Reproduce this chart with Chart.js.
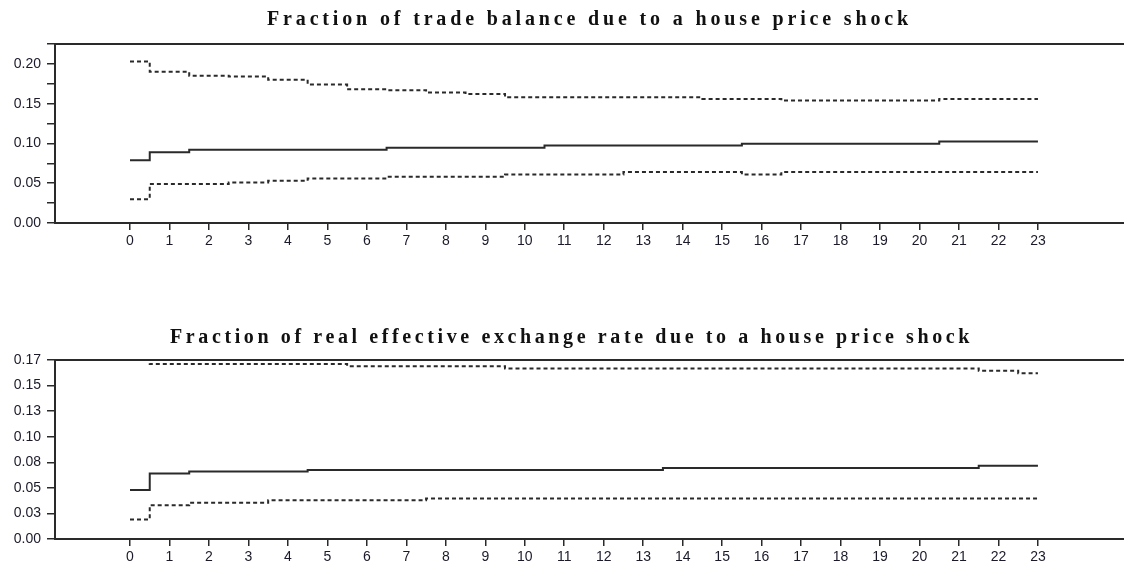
<!DOCTYPE html>
<html>
<head>
<meta charset="utf-8">
<script src="https://cdn.jsdelivr.net/npm/chart.js@4"></script>
<style>
  body { margin: 0; background: #fff; width: 1124px; height: 572px; overflow: hidden; position: relative; }
  .panel { position: absolute; left: 0; width: 1124px; }
  .title { position: absolute; font-family: "Liberation Serif", "Times New Roman", serif; font-weight: bold;
           font-size: 20px; line-height: 20px; white-space: nowrap; color: #111; }
</style>
</head>
<body>
<div class="panel" style="top:0;height:270px"><canvas id="tbChart"></canvas></div>
<div class="panel" style="top:300px;height:272px"><canvas id="reerChart"></canvas></div>
<div class="title" id="tbTitle" style="left:267px;top:8px"></div>
<div class="title" id="reerTitle" style="left:170px;top:326px"></div>
<script>
// horizons (quarters after the shock)
const horizons = [0, 1, 2, 3, 4, 5, 6, 7, 8, 9, 10, 11, 12, 13, 14, 15, 16, 17, 18, 19, 20, 21, 22, 23];

// trade balance: share explained by house price shock, with bands
const tbTitle = 'Fraction of trade balance due to a house price shock';
const tbMid   = [0.079, 0.089, 0.092, 0.092, 0.092, 0.092, 0.092, 0.0947, 0.0947, 0.0947, 0.0947, 0.0974,
                 0.0974, 0.0974, 0.0974, 0.0974, 0.0996, 0.0996, 0.0996, 0.0996, 0.0996, 0.1025, 0.1025, 0.1025];
const tbUpper = [0.203, 0.190, 0.185, 0.184, 0.180, 0.174, 0.168, 0.167, 0.164, 0.162, 0.158, 0.158,
                 0.158, 0.158, 0.158, 0.156, 0.156, 0.154, 0.154, 0.154, 0.154, 0.156, 0.156, 0.156];
const tbLower = [0.030, 0.049, 0.049, 0.051, 0.053, 0.056, 0.056, 0.058, 0.058, 0.058, 0.061, 0.061,
                 0.061, 0.064, 0.064, 0.064, 0.061, 0.064, 0.064, 0.064, 0.064, 0.064, 0.064, 0.064];
const tbYLabels = ['0.00', '', '0.05', '', '0.10', '', '0.15', '', '0.20', ''];

// real effective exchange rate
const reerTitle = 'Fraction of real effective exchange rate due to a house price shock';
const reerMid   = [0.048, 0.064, 0.066, 0.066, 0.066, 0.0675, 0.0675, 0.0675, 0.0675, 0.0675, 0.0675, 0.0675,
                   0.0675, 0.0675, 0.0694, 0.0694, 0.0694, 0.0694, 0.0694, 0.0694, 0.0694, 0.0694, 0.0715, 0.0715];
const reerUpper = [0.180, 0.171, 0.171, 0.171, 0.171, 0.171, 0.169, 0.169, 0.169, 0.169, 0.1668, 0.1668,
                   0.1668, 0.1668, 0.1668, 0.1668, 0.1668, 0.1668, 0.1668, 0.1668, 0.1668, 0.1668, 0.1645, 0.162];
const reerLower = [0.019, 0.033, 0.0355, 0.0355, 0.038, 0.038, 0.038, 0.038, 0.0395, 0.0395, 0.0395, 0.0395,
                   0.0395, 0.0395, 0.0395, 0.0395, 0.0395, 0.0395, 0.0395, 0.0395, 0.0395, 0.0395, 0.0395, 0.0395];
const reerYLabels = ['0.00', '0.03', '0.05', '0.08', '0.10', '0.13', '0.15', '0.17'];

const yStep = 0.025;
const xMin = -1.9, xMax = 25.18;
const ink = '#2a2a2a';
const tickFont = { family: '"Liberation Sans", Arial, sans-serif', size: 14 };

function placeTitle(id, text, width) {
    const el = document.getElementById(id);
    el.textContent = text;
    const natural = el.getBoundingClientRect().width;
    el.style.letterSpacing = ((width - natural) / text.length) + 'px';
}

function series(values, dashed) {
    return {
        data: horizons.map((h, i) => ({ x: h, y: values[i] })),
        borderColor: ink,
        borderWidth: 2,
        borderDash: dashed ? [4, 3] : [],
        stepped: 'middle',
        pointRadius: 0,
        fill: false
    };
}

function makeChart(canvasId, mid, upper, lower, yLabels, padTop, padBottom) {
    const ctx = document.getElementById(canvasId).getContext('2d');
    return new Chart(ctx, {
        type: 'line',
        data: { datasets: [series(upper, true), series(mid, false), series(lower, true)] },
        options: {
            responsive: true,
            maintainAspectRatio: false,
            animation: false,
            devicePixelRatio: 1,
            layout: { padding: { top: padTop, bottom: padBottom, left: 0, right: 0 } },
            plugins: { legend: { display: false }, tooltip: { enabled: false }, title: { display: false } },
            scales: {
                x: {
                    type: 'linear',
                    min: xMin,
                    max: xMax,
                    afterBuildTicks: s => { s.ticks = horizons.map(v => ({ value: v })); },
                    afterFit: s => { s.height = 30; },
                    grid: { display: true, drawOnChartArea: false, drawTicks: true, tickLength: 7, color: ink, lineWidth: 1.5 },
                    border: { display: true, color: ink, width: 2 },
                    ticks: { autoSkip: false, maxRotation: 0, padding: 3, font: tickFont, color: '#1a1a2a',
                             callback: v => String(v) }
                },
                xTop: {
                    type: 'linear',
                    position: 'top',
                    min: xMin,
                    max: xMax,
                    afterFit: s => { s.height = 0; },
                    grid: { display: false, drawTicks: false },
                    border: { display: true, color: ink, width: 2 },
                    ticks: { display: false }
                },
                y: {
                    type: 'linear',
                    min: 0,
                    max: (yLabels.length - 1) * yStep,
                    afterBuildTicks: s => { s.ticks = yLabels.map((_, i) => ({ value: i * yStep })); },
                    afterFit: s => { s.width = 55; },
                    grid: { display: true, drawOnChartArea: false, drawTicks: true, tickLength: 8, color: ink, lineWidth: 1.5 },
                    border: { display: true, color: ink, width: 2 },
                    ticks: { autoSkip: false, padding: 6, font: tickFont, color: '#1a1a2a',
                             callback: (v, i) => yLabels[i] }
                }
            }
        }
    });
}

placeTitle('tbTitle', tbTitle, 645);
placeTitle('reerTitle', reerTitle, 803);
makeChart('tbChart', tbMid, tbUpper, tbLower, tbYLabels, 44, 17);
makeChart('reerChart', reerMid, reerUpper, reerLower, reerYLabels, 60, 3);
</script>
</body>
</html>
